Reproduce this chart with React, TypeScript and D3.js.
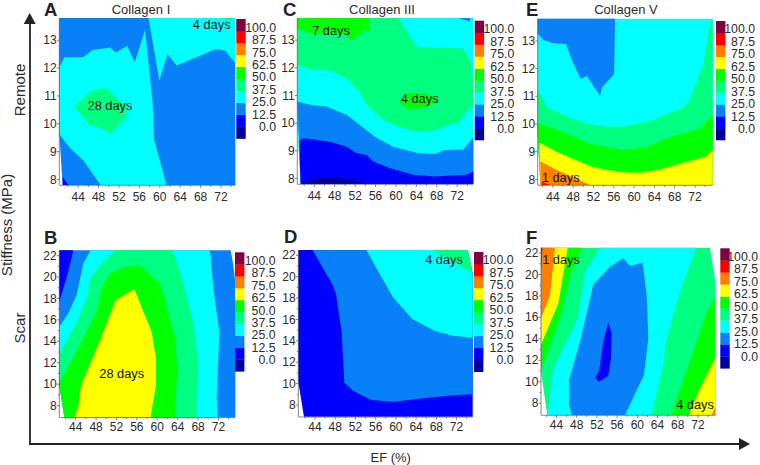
import React from "react";
import * as d3 from "d3";

type Pt = [number, number];
type Layer = [number, Pt[]];

const legendLabels = ["100.0", "87.5", "75.0", "62.5", "50.0", "37.5", "25.0", "12.5", "0.0"];
const bandColors = ["#000099", "#0000ff", "#0880f8", "#00ffff", "#00ff80", "#00ff00", "#ffff00", "#ff8000", "#ff0000", "#800040"];
const efTicks = [44, 48, 52, 56, 60, 64, 68, 72];
const efMinor = [42, 46, 50, 54, 58, 62, 66, 70, 74];
const remoteTicks = [8, 9, 10, 11, 12, 13];
const scarTicks = [8, 10, 12, 14, 16, 18, 20, 22];
const scarMinor = [9, 11, 13, 15, 17, 19, 21];
const efDomain: Pt = [40.5, 75];
const remoteDomain: Pt = [7.8, 13.8];
const scarDomain: Pt = [6.9, 22.5];

const panelABands: Layer[] = [
  [2, [[40.5, 13.8], [75, 13.8], [75, 7.8], [41.15, 7.8], [40.5, 9.67]]],
  [3, [[40.5, 12], [41.5, 12.39], [45.2, 12.39], [47, 12.65], [50.4, 12.74], [51.6, 12.56], [53.8, 12.8], [55.3, 12.21], [57.3, 13.37], [58.8, 10.74], [59.1, 9.43], [61.5, 7.8], [48.6, 7.8], [45.2, 8.69], [42.6, 9.13], [40.8, 9.55], [40.5, 9.67]]],
  [3, [[58, 13.8], [60.1, 11.55], [61.7, 12.51], [63.5, 12.09], [71.2, 12.69], [72.98, 12.63], [75, 12.18], [75, 13.8]]],
  [4, [[43.4, 10.6], [46.6, 11.17], [49.65, 11.3], [53.7, 10.6], [53.6, 10.24], [50.3, 9.63], [48.8, 9.85], [46.6, 9.96]]],
  [4, [[72, 13.8], [74.4, 13.8], [74.4, 13.73]]],
  [1, [[41.15, 8.09], [42.3, 7.8], [41.15, 7.8]]],
];

const panelBBands: Layer[] = [
  [2, [[40.5, 22.5], [74.1, 22.5], [74.6, 21.13], [75, 19.57], [75, 6.9], [41.5, 6.9], [40.5, 9.91]]],
  [1, [[40.5, 22.5], [43.25, 22.5], [42.26, 20.5], [40.5, 17.64]]],
  [3, [[46.65, 22.5], [70.05, 22.5], [70.7, 18.95], [71.87, 14.9], [71.35, 8.67], [71.55, 6.9], [41.5, 6.9], [40.5, 9.91], [40.5, 15.37], [42.26, 16.61], [43.9, 18.33], [45.2, 21.29]]],
  [4, [[51.4, 22.5], [62.7, 22.5], [64.8, 19.57], [66.8, 15.52], [67.8, 11.78], [67.4, 8.98], [67.4, 6.9], [41.5, 6.9], [40.5, 9.91], [40.5, 12.72], [44.55, 16.46], [46.05, 18.33], [46.65, 19.88], [48.5, 21.13]]],
  [5, [[40.5, 10.07], [44.55, 13.65], [47.8, 16.77], [48.8, 18.95], [50.45, 20.35], [53.4, 20.97], [56.3, 21.07], [60.1, 19.5], [61.2, 17.86], [63.2, 14.28], [63.65, 11.16], [63.2, 8.36], [63.3, 6.9], [41.5, 6.9], [40.5, 9.91]]],
  [6, [[43.4, 6.9], [44.2, 7.89], [44.75, 9.91], [48.5, 14.12], [51.55, 17.86], [55.2, 18.89], [58.6, 14.9], [59.45, 12.41], [59.45, 9.91], [58.4, 6.9]]],
];

const panelCBands: Layer[] = [
  [4, [[40.5, 13.8], [75, 13.8], [75, 7.8], [41.15, 7.8], [40.5, 10]]],
  [3, [[60.3, 13.8], [63.9, 12.76], [73.05, 12.7], [74.36, 12.28], [75, 11.56], [75, 13.8]]],
  [3, [[40.5, 12.1], [43, 11.96], [46.9, 11.9], [50.2, 11.62], [52.8, 11.1], [54.4, 10.6], [57, 10.17], [60, 9.9], [63.9, 9.69], [67.8, 9.75], [70.4, 9.96], [72.07, 10], [73.4, 10.35], [75, 10.66], [75, 7.8], [41.15, 7.8], [40.5, 10]]],
  [2, [[72.07, 13.8], [74.36, 13.8], [74.36, 13.67]]],
  [2, [[40.5, 10.78], [43, 10.66], [46.25, 10.6], [50.2, 10.3], [55.7, 9.51], [59.3, 9.15], [63.9, 8.93], [67.5, 8.88], [69.45, 9.03], [73.05, 9.05], [75, 9.49], [75, 7.8], [41.15, 7.8], [40.83, 9.39]]],
  [1, [[40.9, 9.39], [42, 9.45], [46.9, 9.33], [50.2, 9.15], [52.1, 8.91], [54.1, 8.85], [55.4, 8.61], [58.7, 8.37], [63.25, 8.13], [67.5, 8.07], [69.8, 8.1], [73.7, 8.13], [75, 8.25], [75, 7.8], [41.15, 7.8]]],
  [0, [[41.35, 7.8], [43.3, 7.98], [47.2, 8.07], [51.5, 7.94], [53.8, 7.8]]],
  [5, [[40.5, 13.8], [54.75, 13.8], [54.6, 13.28], [53.8, 13.39], [51.35, 13], [49.2, 13.28], [43, 13.25], [40.5, 13.43]]],
  [5, [[60.5, 10.78], [62.6, 11.1], [65.9, 11.05], [68.15, 10.84], [66.5, 10.62], [63.25, 10.52], [61.15, 10.62]]],
];

const panelDBands: Layer[] = [
  [1, [[40.5, 22.5], [74, 22.5], [75, 20.32], [75, 6.9], [41.62, 6.9], [40.5, 10.18]]],
  [2, [[43.34, 22.5], [74, 22.5], [75, 20.32], [75, 8.99], [71.83, 8.93], [65.24, 8.62], [59.3, 8.3], [55, 8.46], [51.38, 9.3], [49.6, 10.11], [49.07, 14.86], [47.95, 18.44], [47.3, 19.22]]],
  [3, [[54, 22.5], [74, 22.5], [75, 20.32], [75, 14.29], [71.17, 14.48], [67.55, 14.92], [63.06, 16.04], [59.17, 18.13], [56, 20.78]]],
  [4, [[67.1, 22.5], [74, 22.5], [75, 20.32], [71.83, 21.25]]],
];

const panelEBands: Layer[] = [
  [3, [[40.5, 13.8], [75, 13.8], [75, 7.8], [41.03, 7.8], [40.5, 9.67]]],
  [2, [[40.5, 13.8], [55.76, 13.8], [55.57, 11.8], [53.13, 11.32], [52.8, 11.01], [50.17, 11.73], [49, 11.62], [47.2, 12.31], [46.1, 12.89], [43.6, 12.91], [41.6, 13.03], [40.5, 13.27]]],
  [4, [[40.5, 11.25], [42.4, 10.6], [47.2, 10.21], [50.83, 10], [54.1, 9.91], [57.4, 9.91], [62.67, 10.12], [69.25, 10.6], [70.57, 10.93], [73.2, 12.19], [74.5, 13.63], [75, 13.8], [75, 7.8], [41.03, 7.8], [40.5, 9.67]]],
  [5, [[40.5, 10.03], [43.6, 9.85], [46.9, 9.6], [50.83, 9.3], [57.4, 9.06], [62, 9.18], [66.95, 9.55], [72.54, 9.85], [75, 10.33], [75, 7.8], [41.03, 7.8], [40.5, 9.67]]],
  [6, [[40.83, 9.33], [44.25, 9], [50.83, 8.49], [54.1, 8.34], [58.07, 8.25], [61.03, 8.25], [64.65, 8.37], [69.9, 8.64], [73.53, 8.82], [75, 9.06], [75, 7.8], [41.03, 7.8]]],
  [7, [[41.03, 8.66], [44.25, 8.34], [50.83, 7.8], [41.03, 7.8]]],
  [8, [[41.3, 7.92], [42.93, 7.8], [41.3, 7.8]]],
];

const panelFBands: Layer[] = [
  [4, [[40.5, 22.5], [73.94, 22.5], [75, 19.33], [75, 6.9], [41.75, 6.9], [40.5, 10.94]]],
  [3, [[52.18, 22.5], [71.17, 22.5], [68, 18.4], [65.37, 14.05], [64.7, 11.56], [62.4, 6.9], [41.75, 6.9], [42.94, 11.25], [47.7, 15.91], [49.2, 20.26]]],
  [2, [[50.86, 19.08], [54.15, 20.73], [56.79, 21.51], [58.11, 20.79], [60.62, 21.1], [61.41, 18.09], [61.74, 14.05], [60.88, 10.63], [57.12, 6.9], [46.57, 6.9], [46.04, 7.83], [46.04, 10.16], [48.22, 13.74]]],
  [1, [[53.82, 15.54], [54.48, 14.51], [54.35, 12.18], [53.82, 10.57], [51.98, 10.01], [51.25, 10.38], [52.04, 11.1], [52.83, 13.74]]],
  [5, [[40.5, 22.5], [48.55, 22.5], [46.24, 19.95], [44.6, 16.53], [40.5, 11.1]]],
  [6, [[40.5, 22.5], [45.78, 22.5], [43.93, 17.31], [40.5, 13.43]]],
  [7, [[40.5, 22.5], [43.27, 22.5], [42.3, 18.09], [40.5, 15.91]]],
  [8, [[40.5, 22.5], [40.83, 22.5], [40.5, 20.26]]],
  [5, [[75, 17.93], [73.28, 16.53], [70.65, 12.8], [67.35, 8.45], [66.36, 6.9], [75, 6.9]]],
  [6, [[75, 12.25], [71.96, 9.39], [69.79, 6.9], [75, 6.9]]],
  [7, [[74.27, 6.9], [75, 7.68], [75, 6.9]]],
];

type Note = { t: string; x: number; y: number };
type Panel = {
  letter: string; lx: number; ly: number; title?: string; tx?: number; tickDx: number;
  left: number; right: number; top: number; bottom: number; scar: boolean; bands: Layer[];
  legX: number; legTop: number; legBottom: number; labRight: number; labTop: number; labBottom: number;
  notes: Note[];
};

const panels: Panel[] = [
  { letter: "A", lx: 44, ly: 15.5, title: "Collagen I", tx: 141, tickDx: 1, left: 59.3, right: 235.3, top: 18, bottom: 185, scar: false, bands: panelABands,
    legX: 236.3, legTop: 19, legBottom: 138.5, labRight: 276, labTop: 27.5, labBottom: 127, notes: [{ t: "28 days", x: 110, y: 106 }, { t: "4 days", x: 211.7, y: 25 }] },
  { letter: "B", lx: 44, ly: 244, tickDx: -1.5, left: 59.3, right: 235.3, top: 250.3, bottom: 417.3, scar: true, bands: panelBBands,
    legX: 235, legTop: 252.3, legBottom: 371.3, labRight: 275.5, labTop: 260.7, labBottom: 360, notes: [{ t: "28 days", x: 121.7, y: 373.7 }] },
  { letter: "C", lx: 283, ly: 15.5, title: "Collagen III", tx: 382, tickDx: -0.8, left: 297.3, right: 473.3, top: 18, bottom: 184, scar: false, bands: panelCBands,
    legX: 474.7, legTop: 20.7, legBottom: 140, labRight: 514.3, labTop: 29, labBottom: 129.3, notes: [{ t: "7 days", x: 331, y: 31 }, { t: "4 days", x: 419.7, y: 99 }] },
  { letter: "D", lx: 284, ly: 243, tickDx: -1, left: 298.3, right: 472.7, top: 250, bottom: 416.7, scar: true, bands: panelDBands,
    legX: 474, legTop: 252, legBottom: 371.7, labRight: 513.5, labTop: 260, labBottom: 360, notes: [{ t: "4 days", x: 444, y: 259.7 }] },
  { letter: "E", lx: 526, ly: 15.5, title: "Collagen V", tx: 626, tickDx: -2.5, left: 537.7, right: 712.7, top: 18.7, bottom: 185, scar: false, bands: panelEBands,
    legX: 716, legTop: 21, legBottom: 140, labRight: 755, labTop: 29, labBottom: 129.3, notes: [{ t: "1 days", x: 560.7, y: 178 }] },
  { letter: "F", lx: 526, ly: 244, tickDx: -2.2, left: 541, right: 715.3, top: 247.7, bottom: 415, scar: true, bands: panelFBands,
    legX: 720.3, legTop: 248.3, legBottom: 368.3, labRight: 758, labTop: 256.7, labBottom: 356.7, notes: [{ t: "1 days", x: 561, y: 260 }, { t: "4 days", x: 695, y: 404.7 }] },
];

const font = "Liberation Sans, Arial, sans-serif";
const ink = "#2b2b2b";
const nudge = 0.9;

function PanelView({ p }: { p: Panel }) {
  const x = d3.scaleLinear().domain(efDomain).range([p.left, p.right]);
  const y = d3.scaleLinear().domain(p.scar ? scarDomain : remoteDomain).range([p.bottom, p.top]);
  const line = d3.line<Pt>().x((d) => x(d[0])).y((d) => y(d[1])).curve(d3.curveLinearClosed);
  const yTicks = p.scar ? scarTicks : remoteTicks;
  const yMinor = p.scar ? scarMinor : [];
  const legendY = d3.scaleLinear().domain([0, bandColors.length]).range([p.legBottom, p.legTop]);
  const labelY = d3.scalePoint<string>().domain(legendLabels).range([p.labTop, p.labBottom]);
  const labelOffset = p.scar ? 10 : 12;
  return (
    <g>
      <text x={p.lx} y={p.ly} fontFamily={font} fontWeight="bold" fontSize={18.5} fill="#222">{p.letter}</text>
      {p.title && <text x={p.tx} y={10.5} dominantBaseline="middle" textAnchor="middle" fontFamily={font} fontSize={13} fill={ink}>{p.title}</text>}
      {p.bands.map(([level, pts], i) => (
        <path key={i} d={line(pts) ?? ""} fill={bandColors[level]} />
      ))}
      <g stroke="#555" strokeWidth={0.7} fill="none">
        <line x1={p.left} x2={p.right} y1={p.bottom + 0.3} y2={p.bottom + 0.3} />
        <line x1={p.left} x2={p.left} y1={p.top} y2={p.bottom} />
        {efTicks.map((t) => <line key={t} x1={x(t) + p.tickDx} x2={x(t) + p.tickDx} y1={p.bottom} y2={p.bottom + 3} />)}
        {efMinor.map((t) => <line key={t} x1={x(t) + p.tickDx} x2={x(t) + p.tickDx} y1={p.bottom} y2={p.bottom + 2} />)}
        {yTicks.map((t) => <line key={t} x1={p.left - 2.5} x2={p.left} y1={y(t)} y2={y(t)} />)}
        {yMinor.map((t) => <line key={t} x1={p.left - 1.5} x2={p.left} y1={y(t)} y2={y(t)} />)}
      </g>
      {efTicks.map((t) => (
        <text key={t} x={x(t) + p.tickDx} y={p.bottom + labelOffset + nudge} dominantBaseline="middle" textAnchor="middle" fontFamily={font} fontSize={12} fill={ink}>{t}</text>
      ))}
      {yTicks.map((t) => (
        <text key={t} x={p.left - 2.6} y={y(t) + nudge} dominantBaseline="middle" textAnchor="end" fontFamily={font} fontSize={12} fill={ink}>{t}</text>
      ))}
      {bandColors.map((c, i) => (
        <rect key={c} x={p.legX} width={9.4} y={legendY(i + 1)} height={legendY(i) - legendY(i + 1) + 0.3} fill={c} />
      ))}
      {legendLabels.map((l) => (
        <text key={l} x={p.labRight} y={labelY(l)! + nudge} dominantBaseline="middle" textAnchor="end" fontFamily={font} fontSize={12.3} fill={ink}>{l}</text>
      ))}
      {p.notes.map((n) => (
        <text key={n.t} x={n.x} y={n.y + nudge} dominantBaseline="middle" textAnchor="middle" fontFamily={font} fontSize={12.8} fill="#111">{n.t}</text>
      ))}
    </g>
  );
}

export default function App() {
  return (
    <svg width={760} height={465} viewBox="0 0 760 465" style={{ position: "absolute", left: 0, top: 0, display: "block", background: "#fff" }}>
      {panels.map((p) => <PanelView key={p.letter} p={p} />)}
      <g stroke="#222" strokeWidth={1.8} fill="none">
        <line x1={30} x2={30} y1={20} y2={444} />
        <line x1={29.1} x2={742} y1={444} y2={444} />
      </g>
      <path d="M29.7 13 L35.7 24 L23.7 24 Z" fill="#222" />
      <path d="M750 444 L739 438 L739 450 Z" fill="#222" />
      <text transform="translate(8,225) rotate(-90)" dominantBaseline="middle" textAnchor="middle" fontFamily={font} fontSize={15} fill={ink}>Stiffness (MPa)</text>
      <text transform="translate(21.5,90) rotate(-90)" dominantBaseline="middle" textAnchor="middle" fontFamily={font} fontSize={15} fill={ink}>Remote</text>
      <text transform="translate(21.5,328) rotate(-90)" dominantBaseline="middle" textAnchor="middle" fontFamily={font} fontSize={15} fill={ink}>Scar</text>
      <text x={390.7} y={458.5} dominantBaseline="middle" textAnchor="middle" fontFamily={font} fontSize={13} fill={ink}>EF (%)</text>
    </svg>
  );
}
